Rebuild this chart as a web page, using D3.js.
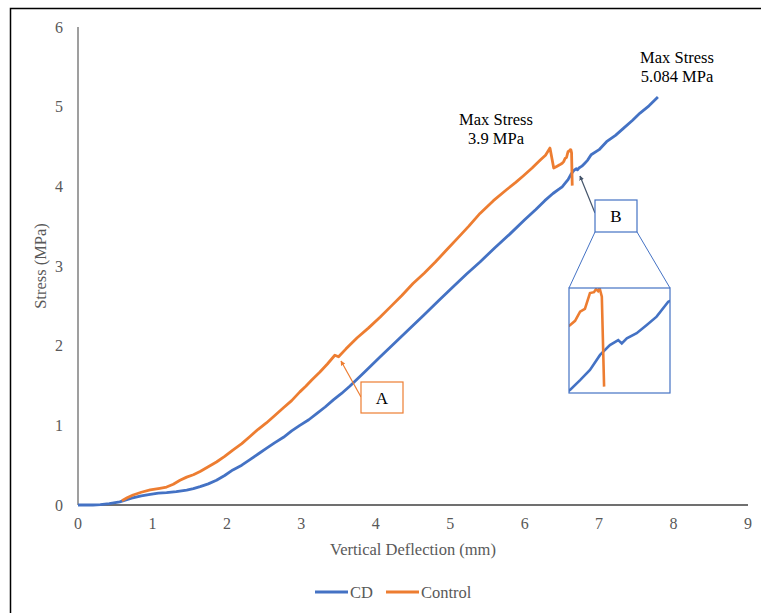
<!DOCTYPE html>
<html>
<head>
<meta charset="utf-8">
<script src="https://cdn.jsdelivr.net/npm/d3@7"></script>
<style>
  body { margin: 0; background: #fff; }
  text { font-family: "Liberation Serif", "Times New Roman", serif; }
</style>
</head>
<body>
<script>
// CD curve: deflection (mm) and stress (MPa)
const cdX = [0, 0.2, 0.3, 0.42, 0.56, 0.72, 0.85, 0.97, 1.08, 1.19, 1.32, 1.46, 1.55, 1.64, 1.75, 1.86, 1.97, 2.08, 2.2, 2.31, 2.42, 2.53, 2.64, 2.76, 2.87, 2.98, 3.1, 3.21, 3.32, 3.43, 3.54, 3.65, 3.85, 4.06, 4.25, 4.45, 4.64, 4.85, 5.05, 5.22, 5.4, 5.6, 5.8, 6.0, 6.15, 6.27, 6.38, 6.47, 6.504, 6.544, 6.583, 6.623, 6.662, 6.695, 6.709, 6.729, 6.768, 6.808, 6.847, 6.893, 7.0, 7.1, 7.22, 7.33, 7.45, 7.55, 7.67, 7.79];
const cdY = [0, 0, 0.004, 0.018, 0.04, 0.085, 0.115, 0.134, 0.148, 0.155, 0.168, 0.188, 0.205, 0.23, 0.265, 0.31, 0.37, 0.44, 0.5, 0.57, 0.64, 0.71, 0.78, 0.85, 0.93, 1.0, 1.07, 1.15, 1.23, 1.32, 1.4, 1.49, 1.67, 1.86, 2.03, 2.21, 2.38, 2.57, 2.75, 2.9, 3.05, 3.23, 3.4, 3.58, 3.71, 3.82, 3.91, 3.97, 3.994, 4.039, 4.085, 4.154, 4.199, 4.222, 4.207, 4.23, 4.253, 4.291, 4.329, 4.397, 4.46, 4.56, 4.64, 4.73, 4.83, 4.92, 5.01, 5.12];

// Control curve
const ctrlX = [0.59, 0.66, 0.74, 0.85, 0.97, 1.1, 1.19, 1.28, 1.37, 1.46, 1.55, 1.64, 1.75, 1.86, 1.97, 2.08, 2.2, 2.31, 2.42, 2.53, 2.64, 2.76, 2.87, 2.98, 3.06, 3.14, 3.25, 3.35, 3.45, 3.5, 3.6, 3.75, 3.9, 4.06, 4.2, 4.35, 4.5, 4.65, 4.8, 4.95, 5.1, 5.25, 5.4, 5.58, 5.76, 5.88, 5.98, 6.1, 6.21, 6.28, 6.34, 6.39, 6.43, 6.47, 6.504, 6.524, 6.544, 6.563, 6.583, 6.599, 6.607, 6.615, 6.621, 6.63, 6.639];
const ctrlY = [0.054, 0.09, 0.126, 0.16, 0.19, 0.21, 0.225, 0.26, 0.31, 0.35, 0.38, 0.42, 0.48, 0.54, 0.61, 0.69, 0.77, 0.86, 0.95, 1.03, 1.12, 1.22, 1.31, 1.42, 1.49, 1.57, 1.67, 1.77, 1.88, 1.86, 1.96, 2.1, 2.22, 2.36, 2.49, 2.63, 2.78, 2.91, 3.05, 3.2, 3.35, 3.5, 3.66, 3.82, 3.96, 4.05, 4.13, 4.23, 4.33, 4.39, 4.48, 4.23, 4.25, 4.27, 4.29, 4.31, 4.352, 4.365, 4.437, 4.441, 4.455, 4.446, 4.46, 4.42, 4.009];

const xTicks = [0, 1, 2, 3, 4, 5, 6, 7, 8, 9];
const yTicks = [0, 1, 2, 3, 4, 5, 6];
const seriesNames = ["CD", "Control"];
const seriesColors = ["#4472C4", "#ED7D31"];

const W = 761, H = 613;
const svg = d3.select("body").append("svg").attr("width", W).attr("height", H);

// outer frame (left and top edges visible)
svg.append("path").attr("d", `M10.5,${H + 5} V8.5 H${W + 5}`)
  .attr("fill", "none").attr("stroke", "#000").attr("stroke-width", 1.5);

const x = d3.scaleLinear().domain([0, 9]).range([78, 748]);
const y = d3.scaleLinear().domain([0, 6]).range([505, 27]);

// axes
svg.append("line").attr("x1", x(0)).attr("x2", x(0)).attr("y1", y(6)).attr("y2", y(0))
  .attr("stroke", "#7f7f7f").attr("stroke-width", 1.5);
svg.append("line").attr("x1", x(0)).attr("x2", x(9)).attr("y1", y(0)).attr("y2", y(0))
  .attr("stroke", "#404040").attr("stroke-width", 1.5);

svg.selectAll(".ytick").data(yTicks).enter().append("text")
  .attr("x", 63).attr("y", d => y(d) + 5.5).attr("text-anchor", "end")
  .attr("font-size", 16).attr("fill", "#595959").text(d => d);
svg.selectAll(".xtick").data(xTicks).enter().append("text")
  .attr("x", d => x(d)).attr("y", 529).attr("text-anchor", "middle")
  .attr("font-size", 16).attr("fill", "#595959").text(d => d);

svg.append("text").attr("x", 413).attr("y", 555).attr("text-anchor", "middle")
  .attr("font-size", 16.5).attr("fill", "#595959").text("Vertical Deflection (mm)");
svg.append("text").attr("transform", "translate(46,266) rotate(-90)").attr("text-anchor", "middle")
  .attr("font-size", 16.5).attr("fill", "#595959").text("Stress (MPa)");

const cd = cdX.map((d, i) => [d, cdY[i]]);
const ctrl = ctrlX.map((d, i) => [d, ctrlY[i]]);

const line = d3.line().x(d => x(d[0])).y(d => y(d[1]));
svg.append("path").attr("d", line(cd)).attr("fill", "none")
  .attr("stroke", seriesColors[0]).attr("stroke-width", 2.8).attr("stroke-linejoin", "round");
svg.append("path").attr("d", line(ctrl)).attr("fill", "none")
  .attr("stroke", seriesColors[1]).attr("stroke-width", 2.8).attr("stroke-linejoin", "round");

// annotations
function label(cx, lines, y0) {
  lines.forEach((t, i) => svg.append("text").attr("x", cx).attr("y", y0 + i * 19)
    .attr("text-anchor", "middle").attr("font-size", 16.5).attr("fill", "#000").text(t));
}
label(496, ["Max Stress", "3.9 MPa"], 125);
label(677, ["Max Stress", "5.084 MPa"], 63);

const defs = svg.append("defs");
function marker(id, color) {
  defs.append("marker").attr("id", id).attr("viewBox", "0 0 10 10")
    .attr("refX", 9).attr("refY", 5).attr("markerWidth", 4).attr("markerHeight", 4)
    .attr("orient", "auto").append("path").attr("d", "M0,0 L10,5 L0,10 z").attr("fill", color);
}
marker("arrA", "#ED7D31");
marker("arrB", "#44546A");

// box A
svg.append("line").attr("x1", 361).attr("y1", 397).attr("x2", 341).attr("y2", 361)
  .attr("stroke", "#ED7D31").attr("stroke-width", 1.2).attr("marker-end", "url(#arrA)");
svg.append("rect").attr("x", 361).attr("y", 382).attr("width", 42).attr("height", 31)
  .attr("fill", "#fff").attr("stroke", "#ED7D31").attr("stroke-width", 1.2);
svg.append("text").attr("x", 382).attr("y", 404).attr("text-anchor", "middle")
  .attr("font-size", 17).text("A");

// box B
svg.append("line").attr("x1", 595).attr("y1", 213).attr("x2", 580).attr("y2", 176)
  .attr("stroke", "#44546A").attr("stroke-width", 1.2).attr("marker-end", "url(#arrB)");
svg.append("rect").attr("x", 595).attr("y", 200).attr("width", 42).attr("height", 32)
  .attr("fill", "#fff").attr("stroke", "#4472C4").attr("stroke-width", 1.2);
svg.append("text").attr("x", 616).attr("y", 222).attr("text-anchor", "middle")
  .attr("font-size", 17).text("B");

// inset zoom of region B
const ix = d3.scaleLinear().domain([6.5, 6.9]).range([569, 670]);
const iy = d3.scaleLinear().domain([3.98, 4.46]).range([393, 288]);
svg.append("line").attr("x1", 595).attr("y1", 232).attr("x2", 569).attr("y2", 288)
  .attr("stroke", "#4472C4").attr("stroke-width", 1);
svg.append("line").attr("x1", 637).attr("y1", 232).attr("x2", 670).attr("y2", 288)
  .attr("stroke", "#4472C4").attr("stroke-width", 1);
defs.append("clipPath").attr("id", "inclip").append("rect")
  .attr("x", 569).attr("y", 288).attr("width", 101).attr("height", 105);
const iline = d3.line().x(d => ix(d[0])).y(d => iy(d[1]));
const ig = svg.append("g").attr("clip-path", "url(#inclip)");
ig.append("path").attr("d", iline(cd)).attr("fill", "none")
  .attr("stroke", seriesColors[0]).attr("stroke-width", 2.6);
ig.append("path").attr("d", iline(ctrl)).attr("fill", "none")
  .attr("stroke", seriesColors[1]).attr("stroke-width", 2.6);
svg.append("rect").attr("x", 569).attr("y", 288).attr("width", 101).attr("height", 105)
  .attr("fill", "none").attr("stroke", "#4472C4").attr("stroke-width", 1.2);

// legend
const lg = svg.append("g").selectAll("g").data(seriesNames).enter().append("g")
  .attr("transform", (d, i) => `translate(${[315, 386][i]},592)`);
lg.append("line").attr("x1", 0).attr("x2", 33).attr("y1", 0).attr("y2", 0)
  .attr("stroke", (d, i) => seriesColors[i]).attr("stroke-width", 2.8);
lg.append("text").attr("x", 35).attr("y", 5.5).attr("font-size", 16.5).attr("fill", "#595959").text(d => d);
</script>
</body>
</html>
